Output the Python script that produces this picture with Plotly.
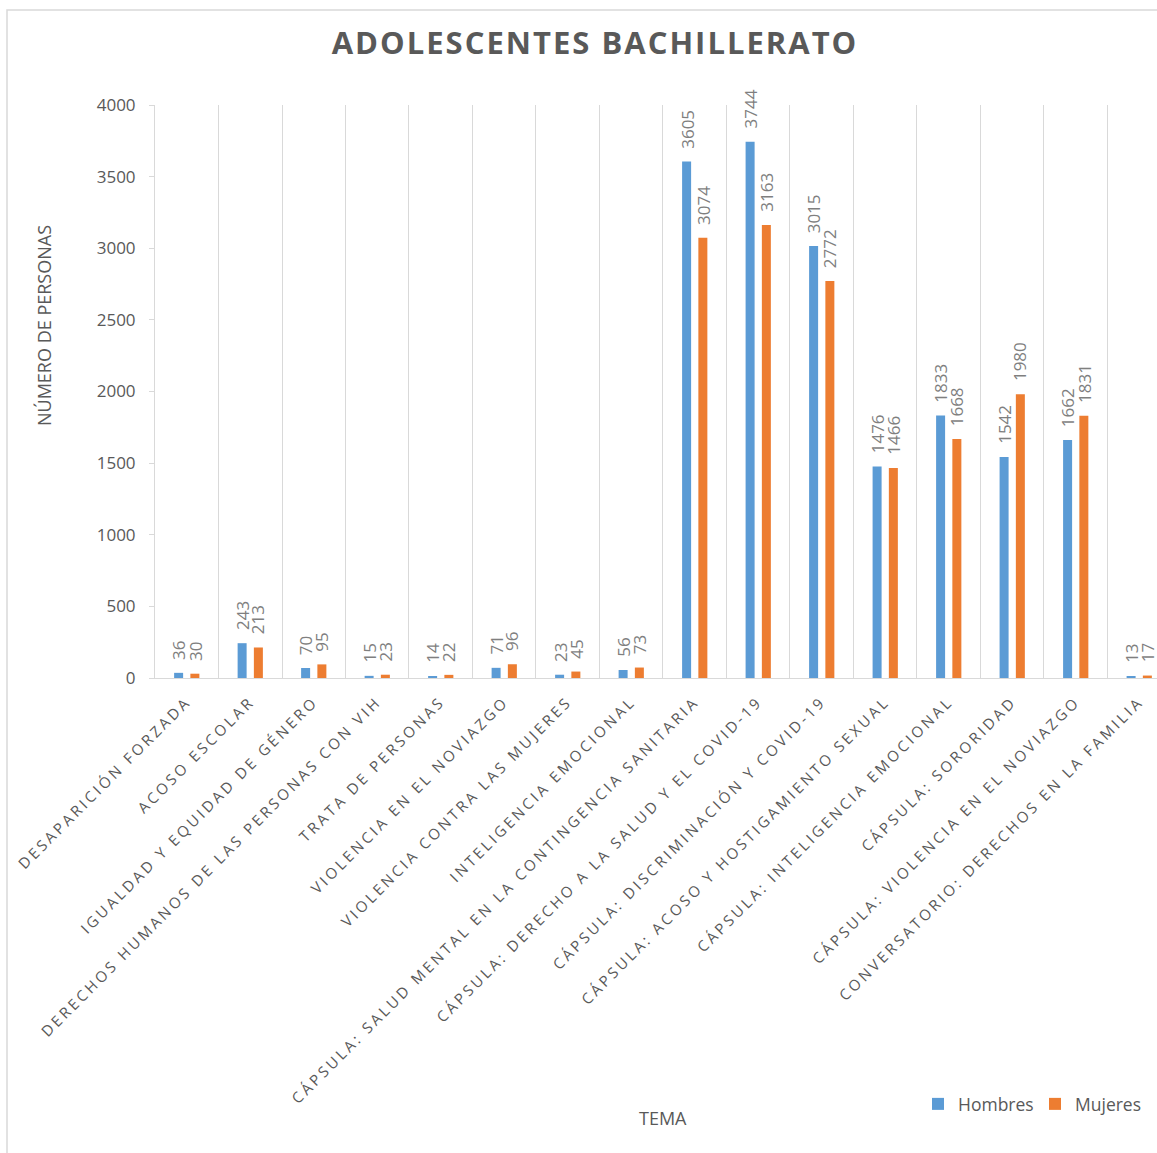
import plotly.graph_objects as go

# Talleres impartidos a adolescentes de bachillerato
temas = [
    "DESAPARICIÓN FORZADA",
    "ACOSO ESCOLAR",
    "IGUALDAD Y EQUIDAD DE GÉNERO",
    "DERECHOS HUMANOS DE LAS PERSONAS CON VIH",
    "TRATA DE PERSONAS",
    "VIOLENCIA EN EL NOVIAZGO",
    "VIOLENCIA CONTRA LAS MUJERES",
    "INTELIGENCIA EMOCIONAL",
    "CÁPSULA: SALUD MENTAL EN LA CONTINGENCIA SANITARIA",
    "CÁPSULA: DERECHO A LA SALUD Y EL COVID-19",
    "CÁPSULA: DISCRIMINACIÓN Y COVID-19",
    "CÁPSULA: ACOSO Y HOSTIGAMIENTO SEXUAL",
    "CÁPSULA: INTELIGENCIA EMOCIONAL",
    "CÁPSULA: SORORIDAD",
    "CÁPSULA: VIOLENCIA EN EL NOVIAZGO",
    "CONVERSATORIO: DERECHOS EN LA FAMILIA",
]
hombres = [36, 243, 70, 15, 14, 71, 23, 56, 3605, 3744, 3015, 1476, 1833, 1542, 1662, 13]
mujeres = [30, 213, 95, 23, 22, 96, 45, 73, 3074, 3163, 2772, 1466, 1668, 1980, 1831, 17]
y_ticks = [0, 500, 1000, 1500, 2000, 2500, 3000, 3500, 4000]

AZUL = "#5B9BD5"
NARANJA = "#ED7D31"
GRIS = "#595959"
GRIS_VALOR = "#7F7F7F"
LINEA = "#D9D9D9"
FUENTE = "Open Sans"

W, H = 1157, 1153
ML, MT, MB = 155, 105, 475
PW = W - ML
PH = H - MT - MB


def px_x(x):
    return (x - ML) / PW


def px_y(y):
    return (H - MB - y) / PH


fig = go.Figure()
fig.add_trace(go.Bar(name="Hombres", x=temas, y=hombres, marker_color=AZUL,
                     marker_line_width=0))
fig.add_trace(go.Bar(name="Mujeres", x=temas, y=mujeres, marker_color=NARANJA,
                     marker_line_width=0))

# Etiquetas de valor giradas sobre cada barra
annotations = []
for serie, desplaz in ((hombres, -8), (mujeres, 8)):
    for tema, valor in zip(temas, serie):
        annotations.append(dict(
            x=tema, y=valor, xref="x", yref="y", text=str(valor),
            showarrow=False, textangle=-90, xanchor="center", yanchor="bottom",
            xshift=desplaz, yshift=11,
            font=dict(family=FUENTE, size=17, color=GRIS_VALOR),
        ))

annotations.append(dict(
    text="NÚMERO DE PERSONAS", xref="paper", yref="paper",
    x=px_x(44), y=px_y(326), showarrow=False, textangle=-90,
    xanchor="center", yanchor="middle",
    font=dict(family=FUENTE, size=18, color=GRIS),
))
annotations.append(dict(
    text="TEMA", xref="paper", yref="paper",
    x=px_x(663), y=px_y(1118), showarrow=False,
    xanchor="center", yanchor="middle",
    font=dict(family=FUENTE, size=18, color=GRIS),
))

fig.update_layout(
    width=W, height=H,
    margin=dict(l=ML, r=0, t=MT, b=MB, pad=0),
    paper_bgcolor="white", plot_bgcolor="white",
    font=dict(family=FUENTE, color=GRIS),
    title=dict(
        text="<b>ADOLESCENTES BACHILLERATO</b>",
        font=dict(family=FUENTE, size=31, color=GRIS),
        x=px_x(595), xref="paper", xanchor="center",
        y=1 - 43 / H, yref="container", yanchor="middle",
    ),
    barmode="group", bargap=0.488, bargroupgap=0.446,
    xaxis=dict(
        type="category", range=[-0.5, 15.28],
        tickson="boundaries", showgrid=True, gridcolor=LINEA, gridwidth=1,
        showline=True, linecolor=LINEA, linewidth=1,
        ticks="", tickangle=-45, ticklabelstandoff=8,
        tickfont=dict(family=FUENTE, size=15, color=GRIS),
        zeroline=False,
    ),
    yaxis=dict(
        range=[0, 4000], tickvals=y_ticks,
        showgrid=False, zeroline=False,
        showline=True, linecolor=LINEA, linewidth=1,
        ticks="outside", ticklen=5, tickcolor=LINEA, tickwidth=1,
        ticklabelstandoff=10,
        tickfont=dict(family=FUENTE, size=17, color=GRIS),
    ),
    legend=dict(
        orientation="h", x=px_x(918), y=px_y(1104),
        xanchor="left", yanchor="middle",
        font=dict(family=FUENTE, size=17.5, color=GRIS),
        itemwidth=30, entrywidth=72, entrywidthmode="pixels",
        bgcolor="rgba(0,0,0,0)",
    ),
    annotations=annotations,
    shapes=[dict(
        type="rect", xref="paper", yref="paper", layer="below",
        x0=px_x(7), x1=px_x(1200), y0=px_y(1200), y1=px_y(10),
        line=dict(color=LINEA, width=1.5), fillcolor="rgba(0,0,0,0)",
    )],
)

# Espaciado entre letras para las etiquetas del eje de temas y el título
espaciado = """
var gd = document.getElementById('{plot_id}');
function espaciar() {
  gd.querySelectorAll('.xtick text').forEach(function (t) {
    t.style.letterSpacing = '3px';
  });
  var titulo = gd.querySelector('.gtitle');
  if (titulo) { titulo.style.letterSpacing = '2px'; }
}
espaciar();
gd.on('plotly_afterplot', espaciar);
"""

fig.write_html("out.html", post_script=espaciado)
